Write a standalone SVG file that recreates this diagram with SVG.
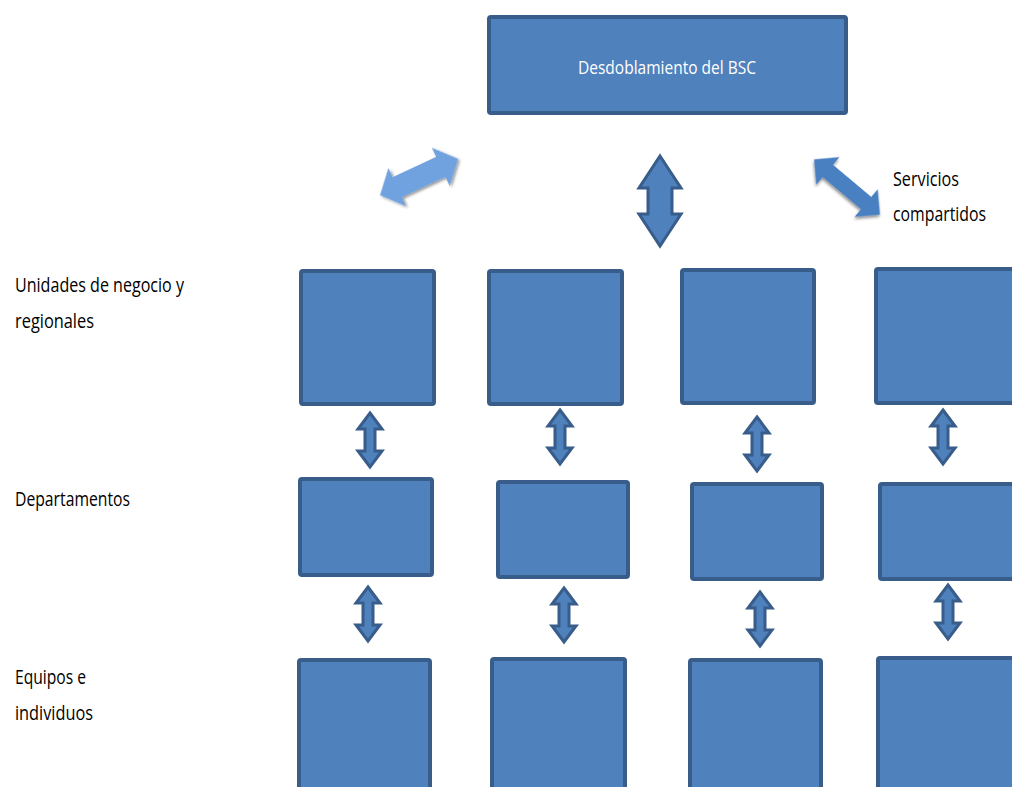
<svg xmlns="http://www.w3.org/2000/svg" width="1012" height="787" viewBox="0 0 1012 787">
  <style>
    .box { fill: #4f81bd; stroke: #385d8a; stroke-width: 4; }
    .arr { fill: #4f81bd; stroke: #385d8a; stroke-width: 3; stroke-linejoin: miter; }
    .lbl { font-family: "Open Sans", "Liberation Sans", sans-serif; font-size: 20px; fill: #000; }
    .title { font-family: "Open Sans", "Liberation Sans", sans-serif; font-size: 19px; fill: #fff; }
  </style>
  <defs>
    <path id="dbl" d="M0,-27 L12,-11 L5,-11 L5,11 L12,11 L0,27 L-12,11 L-5,11 L-5,-11 L-12,-11 Z"/>
    <path id="dblBig" d="M0,-45 L21,-13 L12,-13 L12,13 L21,13 L0,45 L-21,13 L-12,13 L-12,-13 L-21,-13 Z"/>
    <path id="diagL" d="M-43,0 L-24,-21 L-24,-11 L24,-11 L24,-21 L43,0 L24,21 L24,11 L-24,11 L-24,21 Z"/>
    <path id="diagR" d="M-43,0 L-25,-18 L-25,-8 L25,-8 L25,-18 L43,0 L25,18 L25,8 L-25,8 L-25,18 Z"/>
    <filter id="soft" x="-20%" y="-20%" width="140%" height="140%">
      <feGaussianBlur in="SourceAlpha" stdDeviation="1.5"/>
      <feOffset dx="1" dy="1.5" result="b"/>
      <feComponentTransfer><feFuncA type="linear" slope="0.45"/></feComponentTransfer>
      <feMerge><feMergeNode/><feMergeNode in="SourceGraphic"/></feMerge>
    </filter>
  </defs>

  <!-- top node -->
  <g id="bsc">
    <rect class="box" x="489" y="17" width="357" height="96" rx="2"/>
    <text class="title" x="667" y="74" text-anchor="middle" textLength="178" lengthAdjust="spacingAndGlyphs">Desdoblamiento del BSC</text>
  </g>

  <!-- level labels -->
  <g id="labels">
    <text class="lbl" x="15" y="292" textLength="169" lengthAdjust="spacingAndGlyphs">Unidades de negocio y</text>
    <text class="lbl" x="15" y="328" textLength="79" lengthAdjust="spacingAndGlyphs">regionales</text>
    <text class="lbl" x="15" y="506" textLength="115" lengthAdjust="spacingAndGlyphs">Departamentos</text>
    <text class="lbl" x="15" y="684" textLength="71" lengthAdjust="spacingAndGlyphs">Equipos e</text>
    <text class="lbl" x="15" y="720" textLength="78" lengthAdjust="spacingAndGlyphs">individuos</text>
    <text class="lbl" x="893" y="186" textLength="66" lengthAdjust="spacingAndGlyphs">Servicios</text>
    <text class="lbl" x="893" y="221" textLength="93" lengthAdjust="spacingAndGlyphs">compartidos</text>
  </g>

  <!-- business units -->
  <g id="unit1"><rect class="box" x="301" y="271" width="133" height="133" rx="2"/></g>
  <g id="unit2"><rect class="box" x="489" y="271" width="133" height="133" rx="2"/></g>
  <g id="unit3"><rect class="box" x="682" y="270" width="132" height="133" rx="2"/></g>
  <g id="unit4"><rect class="box" x="876" y="269" width="140" height="134" rx="2"/></g>

  <!-- departments -->
  <g id="dept1"><rect class="box" x="300" y="479" width="132" height="96" rx="2"/></g>
  <g id="dept2"><rect class="box" x="498" y="482" width="130" height="95" rx="2"/></g>
  <g id="dept3"><rect class="box" x="692" y="484" width="130" height="95" rx="2"/></g>
  <g id="dept4"><rect class="box" x="880" y="484" width="136" height="95" rx="2"/></g>

  <!-- teams -->
  <g id="team1"><rect class="box" x="299" y="660" width="131" height="140" rx="2"/></g>
  <g id="team2"><rect class="box" x="492" y="659" width="133" height="140" rx="2"/></g>
  <g id="team3"><rect class="box" x="690" y="660" width="131" height="140" rx="2"/></g>
  <g id="team4"><rect class="box" x="878" y="658" width="138" height="140" rx="2"/></g>

  <!-- connectors -->
  <g id="connectors">
    <use href="#diagL" transform="translate(419,177) rotate(-25)" fill="#6fa2e0" filter="url(#soft)"/>
    <use href="#dblBig" class="arr" transform="translate(660,201)"/>
    <use href="#diagR" transform="translate(847,187) rotate(40)" fill="#4a80c2" filter="url(#soft)"/>

    <use href="#dbl" class="arr" transform="translate(370,440)"/>
    <use href="#dbl" class="arr" transform="translate(560,437)"/>
    <use href="#dbl" class="arr" transform="translate(757,444)"/>
    <use href="#dbl" class="arr" transform="translate(943,437)"/>

    <use href="#dbl" class="arr" transform="translate(368,614)"/>
    <use href="#dbl" class="arr" transform="translate(564,615)"/>
    <use href="#dbl" class="arr" transform="translate(760,619)"/>
    <use href="#dbl" class="arr" transform="translate(948,612)"/>
  </g>
</svg>
